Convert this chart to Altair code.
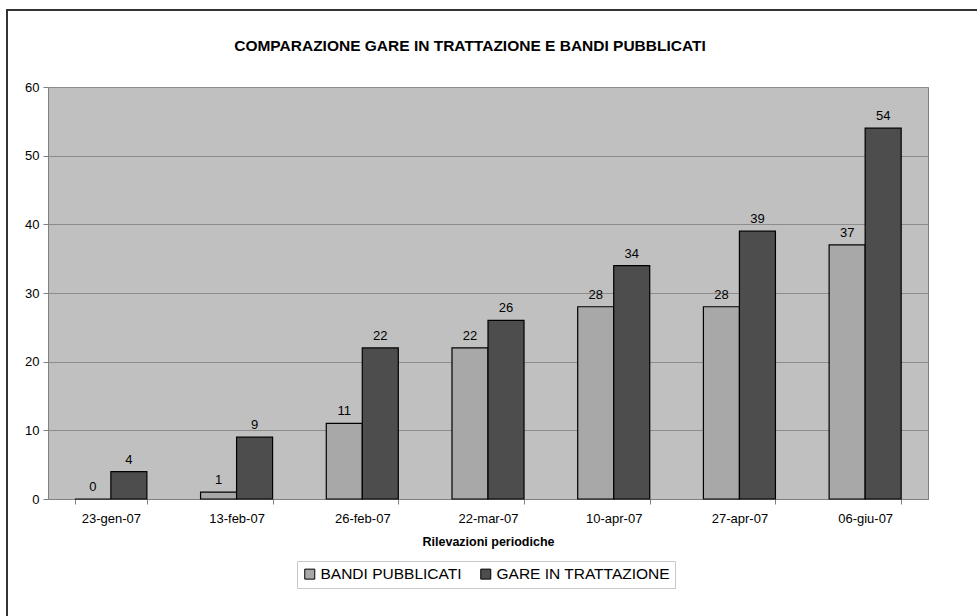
import altair as alt
import pandas as pd

dates = ["23-gen-07", "13-feb-07", "26-feb-07", "22-mar-07", "10-apr-07", "27-apr-07", "06-giu-07"]
bandi = [0, 1, 11, 22, 28, 28, 37]
gare = [4, 9, 22, 26, 34, 39, 54]
series = ["BANDI PUBBLICATI", "GARE IN TRATTAZIONE"]
colors = ["#A8A8A8", "#4D4D4D"]
chart_title = "COMPARAZIONE GARE IN TRATTAZIONE E BANDI PUBBLICATI"

rows = []
for d, b, g in zip(dates, bandi, gare):
    rows.append({"data": d, "serie": series[0], "valore": b})
    rows.append({"data": d, "serie": series[1], "valore": g})
df = pd.DataFrame(rows)

FONT = "Liberation Sans"

x_enc = alt.X(
    "data:N",
    sort=dates,
    scale=alt.Scale(paddingInner=0.427, paddingOuter=0.2135),
    axis=alt.Axis(
        title="Rilevazioni periodiche",
        titleFont=FONT,
        titleFontSize=12.5,
        titleFontWeight="bold",
        titleColor="#000000",
        titlePadding=10,
        labelAngle=0,
        labelFont=FONT,
        labelFontSize=13,
        labelColor="#000000",
        labelPadding=8,
        tickBand="extent",
        tickColor="#808080",
        tickSize=5,
        domainColor="#808080",
        grid=False,
    ),
)
xoff = alt.XOffset("serie:N", sort=series)

bars = alt.Chart(df).mark_bar(stroke="#000000", strokeWidth=1.2).encode(
    x=x_enc,
    xOffset=xoff,
    y=alt.Y(
        "valore:Q",
        scale=alt.Scale(domain=[0, 60]),
        axis=alt.Axis(
            title=None,
            values=[0, 10, 20, 30, 40, 50, 60],
            labelFont=FONT,
            labelFontSize=13,
            labelColor="#000000",
            labelPadding=4,
            tickColor="#808080",
            tickSize=5,
            domainColor="#808080",
            gridColor="#8C8C8C",
            gridWidth=1,
        ),
    ),
    color=alt.Color(
        "serie:N",
        sort=series,
        scale=alt.Scale(domain=series, range=colors),
        legend=alt.Legend(
            title=None,
            orient="none",
            legendX=249,
            legendY=474,
            direction="horizontal",
            labelFont=FONT,
            labelFontSize=15.5,
            labelColor="#000000",
            labelLimit=400,
            symbolType="square",
            symbolSize=100,
            symbolStrokeColor="#000000",
            symbolStrokeWidth=1,
            columnPadding=16,
            labelOffset=3,
            strokeColor="#C8C8C8",
            padding=5,
            fillColor="#FFFFFF",
        ),
    ),
)

labels = alt.Chart(df).mark_text(
    dy=-5, font=FONT, fontSize=13, color="#000000", baseline="bottom"
).encode(
    x=alt.X("data:N", sort=dates),
    xOffset=xoff,
    y="valore:Q",
    text="valore:Q",
)

title_text = alt.Chart(pd.DataFrame({"t": [chart_title]})).mark_text(
    font=FONT, fontSize=15.5, fontWeight="bold", color="#000000",
    align="center", baseline="middle",
).encode(x=alt.value(422), y=alt.value(-41), text="t:N")

frame_top = alt.Chart(df).mark_rule(color="#333333", strokeWidth=2).encode(
    x=alt.value(-42), x2=alt.value(940), y=alt.value(-77)
)
frame_left = alt.Chart(df).mark_rule(color="#333333", strokeWidth=2).encode(
    x=alt.value(-41), y=alt.value(-78), y2=alt.value(540)
)

chart = (
    alt.layer(frame_top, frame_left, bars, labels, title_text)
    .properties(
        width=880,
        height=412,
        padding={"left": 48, "top": 87, "right": 49, "bottom": 117},
        autosize=alt.AutoSizeParams(type="none"),
        background="#FFFFFF",
    )
    .configure_view(fill="#C0C0C0", stroke="#808080", strokeWidth=1)
)

chart.save("out.html", embed_options={"renderer": "svg", "actions": False})
